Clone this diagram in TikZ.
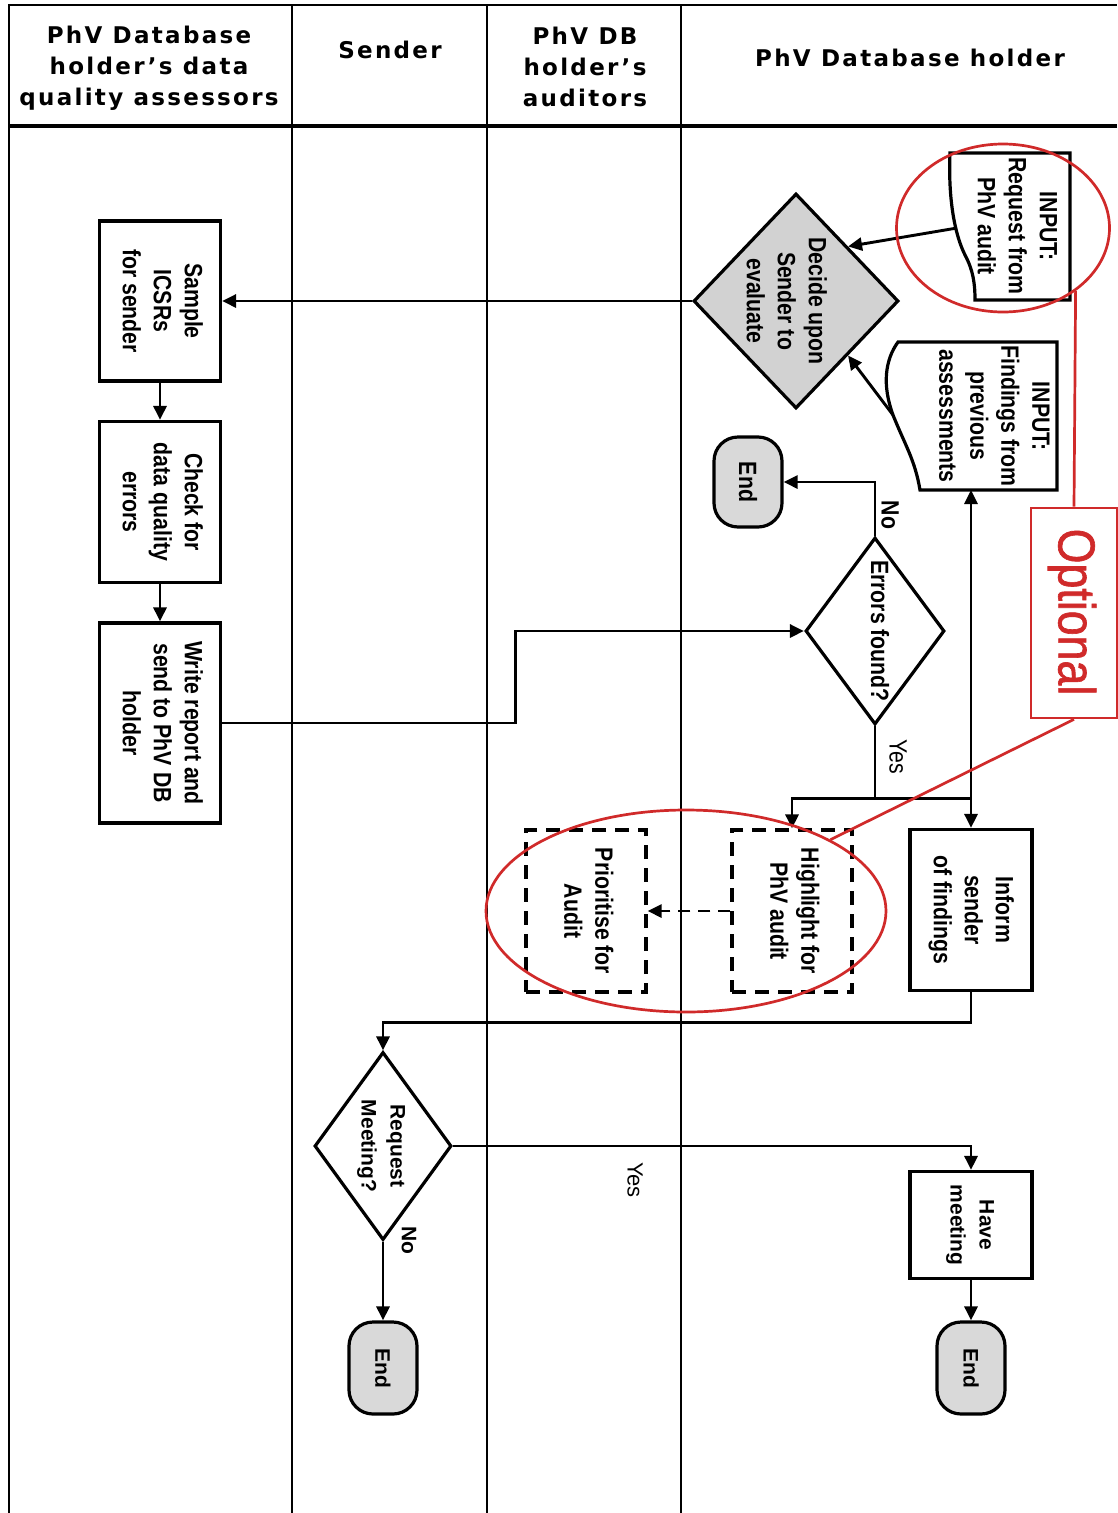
\documentclass[tikz,border=0pt]{standalone}
\usepackage{fontspec}
\usepackage{graphicx}
\usetikzlibrary{arrows.meta,shapes.geometric}
\setmainfont{Liberation Sans}
\newfontfamily\condb[FakeStretch=0.85]{Liberation Sans Bold}
\newfontfamily\condr[FakeStretch=0.85]{Liberation Sans}
\newfontfamily\headf[LetterSpace=10]{DejaVu Sans Bold}
\newfontfamily\optf[FakeStretch=0.86,FakeBold=1.2]{Liberation Sans}
\definecolor{rd}{HTML}{D02A2A}
\newcommand{\vtxt}[1]{\rotatebox{-90}{\begin{tabular}{@{}c@{}}#1\end{tabular}}}
\begin{document}
\begin{tikzpicture}[x=1pt,y=-1pt,
  box/.style={draw, line width=3.2pt, fill=white, inner sep=0pt},
  dbox/.style={draw, line width=3.2pt, dash pattern=on 14pt off 9pt, inner sep=0pt},
  arr/.style={line width=2.9pt, -{Triangle[length=14pt,width=13pt]}},
  dbl/.style={line width=2.9pt, {Triangle[length=14pt,width=13pt]}-{Triangle[length=14pt,width=13pt]}},
  ln/.style={line width=2.9pt},
  term/.style={draw, line width=3.2pt, fill=gray!30, rounded corners=24pt, inner sep=0pt},
  dia/.style={diamond, draw, line width=3.2pt, inner sep=0pt},
  lane/.style={line width=1.8pt},
  txt/.style={font=\condb\fontsize{25}{31}\selectfont},
  rtxt/.style={font=\condr\fontsize{25}{31}\selectfont},
  atxt/.style={font=\bfseries\fontsize{21}{29}\selectfont},
  htxt/.style={font=\headf\fontsize{23}{31}\selectfont, align=center},
  redl/.style={draw=rd, line width=2.7pt}
]
\useasboundingbox (0,0) rectangle (1117,1513);
\fill[white] (0,0) rectangle (1117,1513);
% swimlanes
\draw[lane] (9,1513) -- (9,5) -- (1117,5);
\draw[lane] (292,5) -- (292,1513);
\draw[lane] (487,5) -- (487,1513);
\draw[lane] (681,5) -- (681,1513);
\draw[line width=3.2pt] (9,126) -- (1117,126);
% headers
\node[htxt] (h1) at (149,68) {PhV Database\\holder’s data\\quality assessors};
\node[htxt] (h2) at (390,50) {Sender};
\node[htxt] (h3) at (585,67) {PhV DB\\holder’s\\auditors};
\node[htxt] (h4) at (910,58) {PhV Database holder};

% left lane boxes
\node[box, txt, minimum width=121pt, minimum height=160pt] (sample) at (160,301) {\vtxt{Sample\\ICSRs\\for sender}};
\node[box, txt, minimum width=121pt, minimum height=161pt] (check) at (160,502) {\vtxt{Check for\\data quality\\errors}};
\node[box, txt, minimum width=121pt, minimum height=200pt] (write) at (160,723) {\vtxt{Write report and\\send to PhV DB\\holder}};

% decision: decide upon sender
\node[dia, fill=gray!35, minimum width=205pt, minimum height=215pt] (dec) at (796,301) {};
\node[txt] (decT) at (784,301) {\vtxt{Decide upon\\Sender to\\evaluate}};

% input documents
\draw[line width=3.2pt, fill=white] (1070,153) -- (1070,300) -- (975,300)
  .. controls (975,283) and (973,270) .. (965,255)
  .. controls (955,235) and (948,200) .. (950,153) -- cycle;
\node[txt] (reqT) at (1015,226) {\vtxt{INPUT:\\Request from\\PhV audit}};
\coordinate (reqw) at (957,228);
\draw[line width=3.2pt, fill=white] (1057,342) -- (1057,490) -- (920,490)
  .. controls (915,460) and (905,445) .. (893,415)
  .. controls (882,385) and (885,360) .. (898,342) -- cycle;
\node[txt] (findT) at (992,416) {\vtxt{INPUT:\\Findings from\\previous\\assessments}};
\coordinate (findw) at (893,415);
\coordinate (findb) at (971,490);

% end (top)
\node[term, txt, minimum width=68pt, minimum height=90pt] (end1) at (748,482) {\rotatebox{-90}{End}};

% errors found
\node[dia, fill=white, minimum width=139pt, minimum height=187pt] (err) at (875,631) {};
\node[txt] (errT) at (880,631) {\rotatebox{-90}{Errors found?}};

% highlight / prioritise
\node[dbox, txt, minimum width=120pt, minimum height=162pt] (hl) at (792,911) {\vtxt{Highlight for\\PhV audit}};
\node[dbox, txt, minimum width=120pt, minimum height=162pt] (pr) at (586,911) {\vtxt{Prioritise for\\Audit}};

% inform sender
\node[box, txt, minimum width=122pt, minimum height=161pt] (inform) at (971,910) {\vtxt{Inform\\sender\\of findings}};

% request meeting
\node[dia, fill=white, minimum width=137pt, minimum height=188pt] (rq) at (383,1146) {};
\node[atxt] (rqT) at (382,1146) {\vtxt{Request\\Meeting?}};

% have meeting and ends
\node[box, atxt, minimum width=122pt, minimum height=107pt] (have) at (971,1225) {\vtxt{Have\\meeting}};
\node[term, atxt, minimum width=68pt, minimum height=92pt] (end2) at (971,1368) {\rotatebox{-90}{End}};
\node[term, atxt, minimum width=68pt, minimum height=92pt] (end3) at (383,1368) {\rotatebox{-90}{End}};

% connectors
\draw[arr] (sample.south) -- (check.north);
\draw[arr] (check.south) -- (write.north);
\draw[arr] (dec.west) -- (sample.east);
\draw[arr] (reqw) -- (dec.north east);
\draw[arr] (findw) -- (dec.south east);
\draw[arr] (write.east) -- ++(293,0) |- (err.west);
\draw[arr] (err.north) |- (end1.east);
\node[txt] (noT) at (890,515) {\rotatebox{-90}{No}};
\draw[ln] (err.south) -- ++(0,72) coordinate (j1);
\node[rtxt] (yesT) at (898,757) {\rotatebox{-90}{Yes}};
\draw[arr] (j1) -| (hl.north);
\draw[ln] (j1) -- (j1 -| inform.north);
\draw[dbl] (findb) -- (inform.north);
\draw[arr, dash pattern=on 12pt off 8pt] (hl.west) -- (pr.east);
\draw[arr] (inform.south) -- ++(0,30) -| (rq.north);
\draw[arr] (rq.east) -| (have.north);
\node[font=\fontsize{22}{26}\selectfont] (yesB) at (635,1180) {\rotatebox{-90}{Yes}};
\draw[arr] (rq.south) -- (end3.north);
\node[atxt] (noB) at (409,1240) {\rotatebox{-90}{No}};
\draw[arr] (have.south) -- (end2.north);

% optional annotations
\node[ellipse, redl, minimum width=213pt, minimum height=168pt, inner sep=0pt] (ell1) at (1003,228) {};
\node[ellipse, redl, minimum width=400pt, minimum height=202pt, inner sep=0pt] (ell2) at (686,911) {};
\node[redl, fill=white, minimum width=86pt, minimum height=210pt, inner sep=0pt] (opt) at (1074,613) {};
\node[text=rd, font=\optf\fontsize{52}{60}\selectfont] (optT) at (1072,612) {\rotatebox{-90}{Optional}};
\draw[redl] (ell1.-41) -- (opt.north);
\draw[redl] (opt.south) -- (ell2);
\end{tikzpicture}
\end{document}
